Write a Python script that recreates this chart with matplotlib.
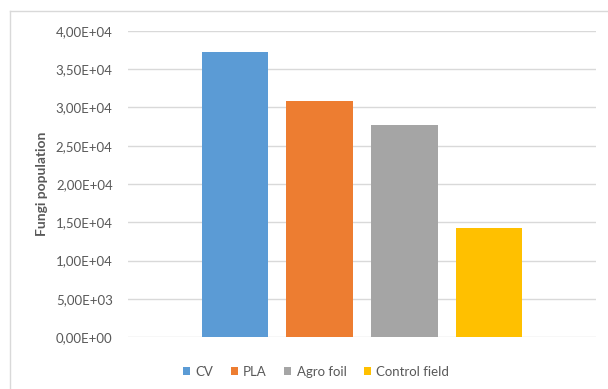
import matplotlib.pyplot as plt
from matplotlib.lines import Line2D
from matplotlib.ticker import FuncFormatter

plt.rcParams['font.family'] = ['Lato', 'DejaVu Sans']

# values
series = ['CV', 'PLA', 'Agro foil', 'Control field']
fungi = [3.73e4, 3.09e4, 2.77e4, 1.43e4]
colors = ['#5B9BD5', '#ED7D31', '#A5A5A5', '#FFC000']
yticks = [0, 5e3, 1e4, 1.5e4, 2e4, 2.5e4, 3e4, 3.5e4, 4e4]

W, H = 608, 389
fig = plt.figure(figsize=(W / 100, H / 100), dpi=100)
ax = fig.add_axes([128 / W, 1 - 337 / H, (596 - 128) / W, (337 - 31) / H])

pos = list(range(len(series)))
bars = ax.bar(pos, fungi, width=0.785, color=colors, label=series, zorder=3)

ax.set_xlim(-1.265, 3 + 1.265)
ax.set_ylim(0, 4e4)
ax.set_yticks(yticks)
ax.yaxis.set_major_formatter(FuncFormatter(lambda v, p: f"{v:.2E}".replace('.', ',')))
ax.set_xticks([])
ax.grid(axis='y', color='#d9d9d9', lw=1, zorder=0)
for s in ax.spines.values():
    s.set_visible(False)
ax.tick_params(axis='y', length=0, pad=11, labelsize=9.5, labelcolor='#595959')

fig.text(42 / W, 1 - 184 / H, 'Fungi population', rotation=90, ha='center', va='center',
         fontsize=10, fontweight='bold', color='#595959')

fig.legend(handles=list(bars), labels=series, loc='center', bbox_to_anchor=(316 / W, 1 - 372 / H),
           ncol=4, frameon=False, fontsize=9.5, handlelength=0.55, handleheight=0.55,
           handletextpad=0.4, columnspacing=1.3, labelcolor='#595959')

# chart-area frame (left and top edges visible)
fig.add_artist(Line2D([10 / W, 10 / W], [0, 1 - 11 / H], color='#d9d9d9', lw=1))
fig.add_artist(Line2D([10 / W, 1], [1 - 11 / H, 1 - 11 / H], color='#d9d9d9', lw=1))

fig.savefig('out.png', dpi=100)
